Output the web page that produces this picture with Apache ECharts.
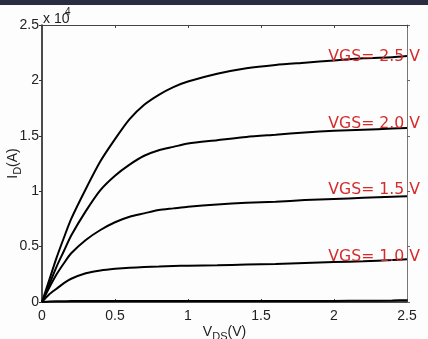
<!DOCTYPE html>
<html>
<head>
<meta charset="utf-8">
<script src="https://cdn.jsdelivr.net/npm/echarts@6/dist/echarts.min.js"></script>
<style>
html,body{margin:0;padding:0;background:#fdfdfd;}
#c{width:428px;height:339px;}
</style>
</head>
<body>
<div id="c"></div>
<script>
// Drain voltage samples (V)
const vds = [0, 0.05, 0.1, 0.15, 0.2, 0.3, 0.4, 0.5, 0.6, 0.7, 0.8, 0.9, 1.0, 1.2, 1.4, 1.6, 1.8, 2.0, 2.2, 2.4, 2.5];
// Drain current (x 10^4 scale as shown on the axis)
const id05 = [0, 0.004, 0.006, 0.007, 0.008, 0.008, 0.008, 0.009, 0.009, 0.009, 0.009, 0.009, 0.009, 0.01, 0.01, 0.01, 0.01, 0.01, 0.011, 0.014, 0.016];
const id10 = [0, 0.07, 0.12, 0.17, 0.21, 0.26, 0.285, 0.30, 0.31, 0.315, 0.32, 0.325, 0.328, 0.332, 0.338, 0.344, 0.352, 0.36, 0.368, 0.378, 0.385];
const id15 = [0, 0.13, 0.25, 0.35, 0.44, 0.56, 0.65, 0.72, 0.77, 0.80, 0.83, 0.845, 0.86, 0.88, 0.895, 0.905, 0.92, 0.93, 0.94, 0.95, 0.955];
const id20 = [0, 0.16, 0.32, 0.46, 0.60, 0.82, 1.01, 1.14, 1.24, 1.32, 1.37, 1.40, 1.43, 1.46, 1.49, 1.51, 1.53, 1.545, 1.555, 1.565, 1.57];
const id25 = [0, 0.20, 0.40, 0.58, 0.75, 1.02, 1.27, 1.47, 1.65, 1.78, 1.87, 1.94, 1.99, 2.06, 2.11, 2.14, 2.16, 2.18, 2.20, 2.21, 2.22];
// Curve annotations
const curveLabels = ['VGS= 1.0 V', 'VGS= 1.5 V', 'VGS= 2.0 V', 'VGS= 2.5 V'];
const curveLabelValues = [0.4, 1.0, 1.6, 2.2];
// Axis ticks
const xTicks = [0, 0.5, 1, 1.5, 2, 2.5];
const yTicks = [0, 0.5, 1, 1.5, 2, 2.5];

const chart = echarts.init(document.getElementById('c'), null, {renderer: 'canvas'});

const labelFont = 'Liberation Sans, Arial, sans-serif';

function mkSeries(vals, idx) {
  const s = {
    type: 'line',
    data: vds.map((x, i) => [x, vals[i]]),
    showSymbol: false,
    symbol: 'none',
    smooth: 0.25,
    lineStyle: {color: '#000', width: 2},
    xAxisIndex: 0,
    yAxisIndex: 0,
    z: 3,
    silent: true
  };
  if (idx >= 0) {
    s.markPoint = {
      symbol: 'circle',
      symbolSize: 0,
      silent: true,
      data: [{coord: [xTicks[xTicks.length - 1], curveLabelValues[idx]], name: curveLabels[idx]}],
      label: {
        show: true,
        position: 'inside',
        formatter: curveLabels[idx],
        color: '#d42b2b',
        fontSize: 15.7,
        fontFamily: 'DejaVu Sans',
        align: 'right',
        verticalAlign: 'middle',
        offset: [13, -1]
      },
      z: 5
    };
  }
  return s;
}

const nameRich = {
  a: {fontSize: 14, fontFamily: labelFont, color: '#222', lineHeight: 16, verticalAlign: 'top'},
  b: {fontSize: 11, fontFamily: labelFont, color: '#222', lineHeight: 12, padding: [6, 0, 0, 0], verticalAlign: 'top'}
};

const option = {
  backgroundColor: '#fdfdfd',
  animation: false,
  grid: {left: 42, right: 21, top: 25, bottom: 37, containLabel: false, outerBoundsMode: 'none', show: false},
  xAxis: [
    {
      type: 'value', min: xTicks[0], max: xTicks[xTicks.length - 1], interval: 0.5,
      position: 'bottom',
      name: '{a|V}{b|DS}{a|(V)}',
      nameLocation: 'middle',
      nameGap: 23,
      nameMoveOverlap: false,
      nameTextStyle: {rich: nameRich},
      axisLine: {show: true, onZero: false, lineStyle: {color: '#111', width: 1.5}},
      axisTick: {show: true, inside: true, length: 3, lineStyle: {color: '#333', width: 1}},
      axisLabel: {show: true, margin: 7, fontSize: 14, fontFamily: labelFont, color: '#222',
        formatter: v => String(v)},
      splitLine: {show: false}
    },
    {
      type: 'value', min: xTicks[0], max: xTicks[xTicks.length - 1], interval: 0.5,
      position: 'top',
      axisLine: {show: true, onZero: false, lineStyle: {color: '#444', width: 1}},
      axisTick: {show: true, inside: true, length: 3, lineStyle: {color: '#444', width: 1}},
      axisLabel: {show: false},
      splitLine: {show: false}
    }
  ],
  yAxis: [
    {
      type: 'value', min: yTicks[0], max: yTicks[yTicks.length - 1], interval: 0.5,
      position: 'left',
      name: '{a|I}{b|D}{a|(A)}',
      nameLocation: 'middle',
      nameGap: 20,
      nameMoveOverlap: false,
      nameRotate: 90,
      nameTextStyle: {rich: nameRich},
      axisLine: {show: true, onZero: false, lineStyle: {color: '#111', width: 1.5}},
      axisTick: {show: true, inside: false, length: 3, lineStyle: {color: '#333', width: 1}},
      axisLabel: {show: true, margin: 3, fontSize: 14, fontFamily: labelFont, color: '#222',
        formatter: v => String(v)},
      splitLine: {show: false}
    },
    {
      type: 'value', min: yTicks[0], max: yTicks[yTicks.length - 1], interval: 0.5,
      position: 'right',
      axisLine: {show: true, onZero: false, lineStyle: {color: '#777', width: 1}},
      axisTick: {show: true, inside: false, length: 3, lineStyle: {color: '#666', width: 1}},
      axisLabel: {show: false},
      splitLine: {show: false}
    }
  ],
  graphic: [
    {type: 'rect', left: 0, top: 0, shape: {width: 428, height: 5}, style: {fill: '#2a2c41'}, z: 10},
    {type: 'text', left: 43, top: 12, style: {text: 'x 10', fontSize: 14, fontFamily: labelFont, fill: '#222'}, z: 10},
    {type: 'text', left: 65, top: 7, style: {text: '4', fontSize: 10, fontFamily: labelFont, fill: '#222'}, z: 10}
  ],
  series: [
    mkSeries(id05, -1),
    mkSeries(id10, 0),
    mkSeries(id15, 1),
    mkSeries(id20, 2),
    mkSeries(id25, 3)
  ]
};
chart.setOption(option);
</script>
</body>
</html>
